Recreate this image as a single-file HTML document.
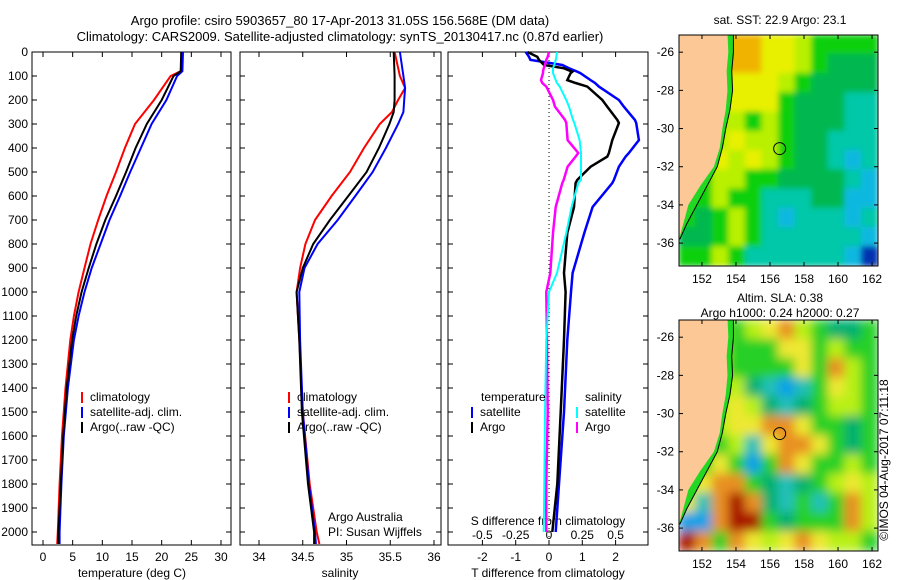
<!DOCTYPE html>
<html><head><meta charset="utf-8"><style>
body{margin:0;background:#fff}
svg{display:block;font-family:"Liberation Sans",sans-serif;font-size:12px}
</style></head><body>
<svg id="s" width="900" height="580">
<text x="340" y="25" text-anchor="middle" font-size="13">Argo profile: csiro 5903657_80 17-Apr-2013 31.05S 156.568E (DM data)</text>
<text x="340" y="41" text-anchor="middle" font-size="13">Climatology: CARS2009. Satellite-adjusted climatology: synTS_20130417.nc (0.87d earlier)</text>
<text x="888" y="460" text-anchor="middle" transform="rotate(-90 888 460)">©IMOS 04-Aug-2017 07:11:18</text>
</svg>
<script>
// ---- data ----
const depthT=[0,80,100,200,300,400,500,600,700,800,900,1000,1100,1200,1400,1600,1800,2000,2050];
const tempClim=[23.5,23.2,21.5,18.7,15.5,13.8,12.3,10.7,9.3,8.0,7.0,6.0,5.2,4.6,3.8,3.2,2.8,2.5,2.4];
const tempSat=[23.6,23.5,22.6,20.8,18.3,16.5,14.7,13.0,11.2,9.7,8.2,7.0,6.0,5.2,4.2,3.5,3.1,2.8,2.8];
const tempArgo=[23.3,23.2,22.0,20.0,17.5,15.6,14.0,12.3,10.5,9.0,7.7,6.5,5.6,4.9,4.0,3.4,3.0,2.6,2.6];
const depthS=[0,100,150,200,250,300,400,500,600,700,800,900,1000,1200,1500,1800,2000,2050];
const salClim=[35.55,35.61,35.67,35.59,35.52,35.38,35.2,35.04,34.83,34.64,34.53,34.47,34.43,34.46,34.5,34.58,34.66,34.69];
const salSat=[35.61,35.65,35.67,35.66,35.65,35.59,35.45,35.3,35.1,34.9,34.67,34.52,34.46,34.47,34.5,34.57,34.64,34.65];
const salArgo=[35.54,35.55,35.55,35.55,35.54,35.49,35.37,35.23,35.02,34.81,34.62,34.5,34.43,34.46,34.49,34.56,34.63,34.63];
const depthD=[0,20,33,54,68,82,88,117,129,144,200,228,283,296,367,421,436,478,533,546,646,754,921,1000,1200,1500,1800,2000];
const tDiffSat=[-0.7,-0.6,-0.56,0.4,0.6,0.85,0.94,1.25,1.38,1.5,2.1,2.25,2.58,2.62,2.7,2.4,2.3,2.1,1.95,1.9,1.31,1.06,0.71,0.66,0.55,0.45,0.3,0.2];
const tDiffArgo=[-0.65,-0.35,-0.3,-0.15,0.45,0.7,0.65,0.55,0.8,1.15,1.6,1.75,2.05,2.1,1.9,1.8,1.75,1.25,0.85,0.8,0.75,0.55,0.45,0.5,0.45,0.35,0.25,0.1];
const sDiffSat=[0.06,0.055,0.05,0.04,0.03,0.03,0.03,0.05,0.06,0.08,0.13,0.15,0.18,0.19,0.23,0.24,0.24,0.24,0.24,0.22,0.17,0.13,0.06,0.0,-0.02,-0.03,-0.035,-0.04];
const sDiffArgo=[0.0,-0.01,-0.02,-0.03,-0.04,-0.045,-0.045,-0.06,-0.05,-0.02,0.03,0.045,0.12,0.13,0.14,0.22,0.2,0.14,0.11,0.1,0.05,0.03,0.01,-0.02,-0.015,-0.01,-0.02,-0.02];
const depthTicks=[0,100,200,300,400,500,600,700,800,900,1000,1100,1200,1300,1400,1500,1600,1700,1800,1900,2000];
const tTicks=[0,5,10,15,20,25,30];
const sTicks=[34,34.5,35,35.5,36];
const sTickLabels=["34","34.5","35","35.5","36"];
const dTTicks=[-2,-1,0,1,2];
const dSTicks=[-0.5,-0.25,0,0.25,0.5];
const latTicks=[-26,-28,-30,-32,-34,-36];
const lonTicks=[152,154,156,158,160,162];
const argoLon=156.568, argoLat=-31.05;
const sstGrid=["LLLOOYYLGGGG","LLLOOYYLGDDD","LLLYYYLGDDDD","LLLYYYGDDDCC","LLLLGLGDDDCC","LLLYLLGDDCCC","LLYLYLGDDCBC","LGLLGGDDDDCB","GGLGGCCCDDBB","GDGLGCBCCCBC","DDGLGCCCCCCB","GGLGCCCCCCBN"];
const slaGrid=["LLLGLYOLGDDG","LLLGGGYYGLGG","LLLGGGGYGOLG","LLLLDCBCGYLG","LLLYLDCDGLLG","LLLYYOOYGGDG","LLGLCYOOYGDG","LGYGBGOYGGLG","LYOOGDCDGLYL","YCORODCGCGOL","BBORRGDGGGOL","ROGOYLYOYLLG"];
const coastLat=[-25,-26,-27,-28,-29,-30,-31,-32,-33,-34,-35,-35.8];
const coastLon=[153.5,153.55,153.45,153.5,153.4,153.2,153.05,152.7,151.9,151.2,150.9,150.65];
const shelfLon=[153.85,153.85,153.75,153.8,153.65,153.4,153.2,152.9,152.3,151.7,151.1,150.7];
// ---- helpers ----
const S=document.getElementById('s'),NS='http://www.w3.org/2000/svg';
function mk(t,a,p){const e=document.createElementNS(NS,t);for(const k in a)e.setAttribute(k,a[k]);(p||S).appendChild(e);return e;}
const PT=52,PB=545,dy=d=>PT+d*0.24;
function lin(d0,r0,d1,r1){return v=>r0+(v-d0)*(r1-r0)/(d1-d0);}
function line(xs,ds,fx,col,name,w){
  const pts=xs.map((v,i)=>fx(v).toFixed(1)+','+dy(ds[i]).toFixed(1)).join(' ');
  const e=mk('polyline',{points:pts,fill:'none',stroke:col,'stroke-width':w||2});
  
  
}
function frame(x0,x1,name){
  const e=mk('rect',{x:x0,y:PT,width:x1-x0,height:PB-PT,fill:'none',stroke:'#000','stroke-width':1});
  
  
  depthTicks.forEach(d=>{mk('line',{x1:x0,x2:x0+5,y1:dy(d),y2:dy(d),stroke:'#000'});mk('line',{x1:x1,x2:x1-5,y1:dy(d),y2:dy(d),stroke:'#000'});});
}
function xticks(vals,labels,fx,ly,name){
  vals.forEach((v,i)=>{const x=fx(v);mk('line',{x1:x,x2:x,y1:PT,y2:PT+5,stroke:'#000'});mk('line',{x1:x,x2:x,y1:PB,y2:PB-5,stroke:'#000'});
    const t=mk('text',{x:x,y:ly,'text-anchor':'middle'});t.textContent=labels[i];
    
    });
}
function txt(x,y,s,name,anchor,p){const t=mk('text',{x:x,y:y,'text-anchor':anchor||'start'},p);t.textContent=s;
  
  return t;}
function legend(x,y,col,label,name){
  const l=mk('line',{x1:x,x2:x,y1:y-9,y2:y+2,stroke:col,'stroke-width':2});
  
  
  txt(x+8,y,label,name);
}
// ---- panel 1 temperature ----
const fT=lin(0,43,30,221);
frame(32,231,'temperature-panel');
depthTicks.forEach(d=>txt(28,dy(d)+4,String(d),'depth-tick-label','end'));
xticks(tTicks,tTicks.map(String),fT,561,'temperature-tick-label');
txt(132,577,'temperature (deg C)','temperature-axis-title','middle');
line(tempClim,depthT,fT,'#f00','temp-climatology-line');
line(tempSat,depthT,fT,'#00f','temp-satellite-line');
line(tempArgo,depthT,fT,'#000','temp-argo-line');
legend(82,401,'#f00','climatology','legend-climatology');
legend(82,416,'#00f','satellite-adj. clim.','legend-satellite');
legend(82,431,'#000','Argo(..raw -QC)','legend-argo');
// ---- panel 2 salinity ----
const fS=lin(34,259,36,434);
frame(240,441,'salinity-panel');
xticks(sTicks,sTickLabels,fS,561,'salinity-tick-label');
txt(340,577,'salinity','salinity-axis-title','middle');
line(salClim,depthS,fS,'#f00','sal-climatology-line');
line(salSat,depthS,fS,'#00f','sal-satellite-line');
line(salArgo,depthS,fS,'#000','sal-argo-line');
legend(289,401,'#f00','climatology','legend-climatology-2');
legend(289,416,'#00f','satellite-adj. clim.','legend-satellite-2');
legend(289,431,'#000','Argo(..raw -QC)','legend-argo-2');
txt(328,521,'Argo Australia','argo-australia-note');
txt(328,536,'PI: Susan Wijffels','pi-note');
// ---- panel 3 differences ----
const fD=lin(0,549,1,582.3);
const fDS=lin(0,549,0.25,582.3);
frame(448,648,'difference-panel');
mk('line',{x1:549,x2:549,y1:PT,y2:PB,stroke:'#000','stroke-dasharray':'1,3'});
xticks(dTTicks,dTTicks.map(String),fD,561,'t-diff-tick-label');
dSTicks.forEach(v=>txt(fDS(v),539,String(v),'s-diff-tick-label','middle'));
txt(548,525,'S difference from climatology','s-diff-axis-title','middle');
txt(548,577,'T difference from climatology','t-diff-axis-title','middle');
line(tDiffSat,depthD,fD,'#00f','t-diff-satellite-line',2.5);
line(tDiffArgo,depthD,fD,'#000','t-diff-argo-line',2.5);
line(sDiffArgo,depthD,fDS,'#f0f','s-diff-argo-line',2.5);
line(sDiffSat,depthD,fDS,'#0ff','s-diff-satellite-line',2);
txt(481,401,'temperature','legend-temperature-head');
txt(585,401,'salinity','legend-salinity-head');
legend(472,416,'#00f','satellite','legend-t-satellite');
legend(472,431,'#000','Argo','legend-t-argo');
legend(577,416,'#0ff','satellite','legend-s-satellite');
legend(577,431,'#f0f','Argo','legend-s-argo');
// ---- maps ----
const col={O:'#f0b400',Y:'#e8f000',L:'#b8f000',G:'#10d010',D:'#00b850',C:'#00c8a8',B:'#10b8e0',N:'#0030b0',R:'#a81000'};
const col2={O:'#e89020',Y:'#eee830',L:'#b8f018',G:'#28d028',D:'#00b070',C:'#20c0b8',B:'#10a0e8',N:'#0040c0',R:'#a81800'};
const lon0=150.65,lon1=162.35,lat0=-25.1,lat1=-37.2;
const defs=mk('defs',{});
const flt=mk('filter',{id:'bl',x:'-5%',y:'-5%',width:'110%',height:'110%'},defs);mk('feGaussianBlur',{stdDeviation:5},flt);
const flt2=mk('filter',{id:'bl2',x:'-5%',y:'-5%',width:'110%',height:'110%'},defs);mk('feGaussianBlur',{stdDeviation:3},flt2);
function map(y0,grid,cmap,name,fid,ttl,ty){
  const x0=679,x1=878,y1=y0+231;
  const fx=lin(lon0,x0,lon1,x1),fy=lin(lat0,y0,lat1,y1);
  const g=mk('g',{});
  
  
  const cid='c'+name;
  const cp=mk('clipPath',{id:cid},defs);mk('rect',{x:x0,y:y0,width:x1-x0,height:y1-y0},cp);
  const inner=mk('g',{'clip-path':'url(#'+cid+')'},g);
  const fg=mk('g',{filter:'url(#'+fid+')'},inner);
  const nr=grid.length,nc=grid[0].length,cw=(x1-x0)/nc,ch=(y1-y0)/nr;
  grid.forEach((row,r)=>[...row].forEach((c,k)=>mk('rect',{x:x0+k*cw-0.5,y:y0+r*ch-0.5,width:cw+1,height:ch+1,fill:cmap[c]},fg)));
  let shelf=coastLat.map((la,i)=>fx(shelfLon[i])+','+fy(la));
  let coast=coastLat.map((la,i)=>fx(coastLon[i])+','+fy(la));
  mk('polygon',{points:[x0+','+(y0-5)].concat(shelf).concat([x0+','+fy(-36)]).join(' '),fill:'#22d822'},inner);
  mk('polygon',{points:[x0+','+(y0-5)].concat(coast).concat([x0+','+fy(-35.8)]).join(' '),fill:'#fcc896'},inner);
  mk('polyline',{points:shelf.join(' '),fill:'none',stroke:'#000','stroke-width':1},inner);
  const c=mk('circle',{cx:fx(argoLon),cy:fy(argoLat),r:6,fill:'none',stroke:'#000'},g);
  
  
  mk('rect',{x:x0,y:y0,width:x1-x0,height:y1-y0,fill:'none',stroke:'#000'},g);
  latTicks.forEach(la=>{const y=fy(la);mk('line',{x1:x1,x2:x1-4,y1:y,y2:y,stroke:'#000'},g);mk('line',{x1:x0,x2:x0+4,y1:y,y2:y,stroke:'#000'},g);txt(674,y+4,String(la),'latitude-tick-label','end',g);});
  lonTicks.forEach(lo=>{const x=fx(lo);mk('line',{x1:x,x2:x,y1:y0,y2:y0+4,stroke:'#000'},g);mk('line',{x1:x,x2:x,y1:y1,y2:y1-4,stroke:'#000'},g);txt(x,y1+17,String(lo),'longitude-tick-label','middle',g);});
  ttl.forEach((t,i)=>txt(780,ty[i],t,'map-title','middle',g));
}
map(35,sstGrid,col,'sst-map','bl2',['sat. SST: 22.9 Argo: 23.1'],[24]);
map(320,slaGrid,col2,'sla-map','bl',['Altim. SLA: 0.38','Argo h1000: 0.24 h2000: 0.27'],[302,317]);
</script>
</body></html>
